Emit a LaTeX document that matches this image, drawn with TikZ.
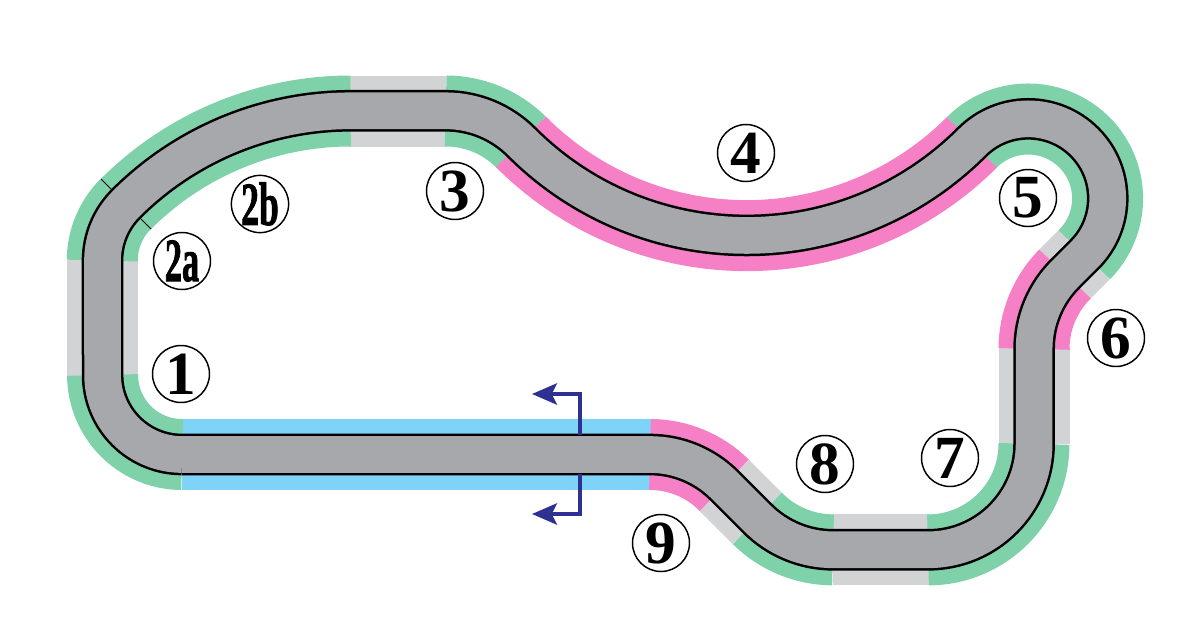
\documentclass[tikz,border=0pt]{standalone}
\usepackage{fontspec}
\setmainfont{Liberation Serif}
\newfontfamily\heavyserif{Liberation Serif}[BoldFeatures={FakeBold=1.6}]
\usetikzlibrary{arrows.meta}
\definecolor{trackgray}{RGB}{167,168,171}
\definecolor{palegray}{RGB}{209,211,212}
\definecolor{zonegreen}{RGB}{127,209,169}
\definecolor{zonepink}{RGB}{245,128,198}
\definecolor{zoneblue}{RGB}{125,211,248}
\definecolor{cutnavy}{RGB}{46,49,146}
\tikzset{
  greenband/.style={draw=zonegreen,line width=53.25pt},
  greyband/.style={draw=palegray,line width=53.25pt},
  pinkband/.style={draw=zonepink,line width=53.25pt},
  blueband/.style={draw=zoneblue,line width=53.25pt},
  turnlabel/.style={circle,draw,line width=1.1pt,fill=white,minimum size=42.75pt,inner sep=0pt,font=\bfseries\fontsize{46}{46}\selectfont},
  cutarrow/.style={draw=cutnavy,line width=2.8pt,-{Stealth[length=18.75pt,width=16pt,inset=4pt]}},
}
\newcommand{\trackpath}{(182,454.5) -- (650,454.5) arc[start angle=-90,end angle=-45,radius=105]
  -- ++(33.2,33.2) arc[start angle=135,end angle=90,radius=107] -- ++(95,0)
  arc[start angle=90,end angle=0,radius=106] -- ++(0,-95)
  arc[start angle=180,end angle=225,radius=106] -- ++(19.3,-19.3)
  arc[start angle=45,end angle=-135,radius=79.5] arc[start angle=45,end angle=135,radius=318.6]
  arc[start angle=-45,end angle=-90,radius=107] -- ++(-95,0)
  arc[start angle=-90,end angle=-135,radius=318] arc[start angle=-135,end angle=-180,radius=80]
  -- (102.6,375) arc[start angle=180,end angle=90,radius=79.5] -- cycle}
\begin{document}
\begin{tikzpicture}[x=0.75pt,y=0.75pt,yscale=-1,xscale=1]
\useasboundingbox (0,0) rectangle (1200,640);

% Bands around the track
\draw[blueband] (181.5,454.5) -- (650.5,454.5);
\draw[greyband] (723.9,485) -- ++(33.8,33.8);
\draw[greyband] (832.5,549.9) -- ++(96,0);
\draw[greyband] (1034,444.4) -- ++(0,-96);
\draw[greyband] (1064.7,274.3) -- ++(19.9,-19.9);
\draw[greyband] (446.1,111) -- ++(-96,0);
\draw[greyband] (102.6,260.1) -- (102.6,375.5);
\draw[greenband] (757.4,518.5) arc[start angle=135,end angle=90,radius=107];
\draw[greenband] (928,549.9) arc[start angle=90,end angle=0,radius=106];
\draw[greenband] (1084.3,254.7) arc[start angle=45,end angle=-135.5,radius=79.5];
\draw[greenband] (521.3,142.3) arc[start angle=-45,end angle=-90,radius=107];
\draw[greenband] (350.6,111) arc[start angle=-90,end angle=-135.2,radius=318];
\draw[greenband] (125.7,204) arc[start angle=-135,end angle=-180,radius=80];
\draw[greenband] (102.6,375) arc[start angle=180,end angle=90,radius=79.5];
\draw[pinkband] (650,454.5) arc[start angle=-90,end angle=-45,radius=105];
\draw[pinkband] (1034,348.9) arc[start angle=180,end angle=225,radius=106];
\draw[pinkband] (971.9,142.3) arc[start angle=45,end angle=135.1,radius=318.6];

% Track
\draw[line width=31.25pt] \trackpath;
\draw[draw=trackgray,line width=27.5pt] \trackpath;

% Ticks between 2a and 2b
\draw[line width=0.6pt] (101,179) -- (112,190);
\draw[line width=0.6pt] (141,219) -- (151,229);

% Section arrows
\coordinate (cutTop) at (580,435);
\coordinate (cutTopEnd) at (532,394);
\coordinate (cutLow) at (580,474);
\coordinate (cutLowEnd) at (532,514);
\draw[cutarrow] (cutTop) |- (cutTopEnd);
\draw[cutarrow] (cutLow) |- (cutLowEnd);

% Text Node
\node[turnlabel] (one) at (181,374) {1};
\node[turnlabel] (twoA) at (182,261) {\heavyserif\scalebox{0.56}[1]{2a}};
\node[turnlabel] (twoB) at (260,204) {\heavyserif\scalebox{0.58}[1]{2b}};
\node[turnlabel] (three) at (455,191) {3};
\node[turnlabel] (four) at (746,153) {4};
\node[turnlabel] (five) at (1028,198) {5};
\node[turnlabel] (six) at (1116,338) {6};
\node[turnlabel] (seven) at (950,458) {7};
\node[turnlabel] (eight) at (825,464) {8};
\node[turnlabel] (nine) at (661,543) {9};

\end{tikzpicture}
\end{document}
